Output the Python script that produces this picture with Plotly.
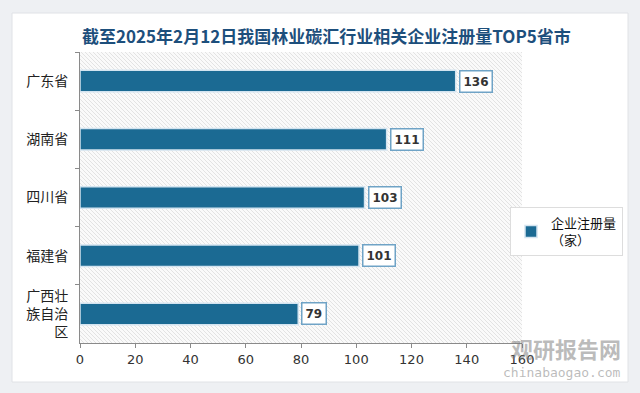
import base64
import plotly.graph_objects as go

categories = ["广东省", "湖南省", "四川省", "福建省", "广西壮<br>族自治<br>区"]
values = [136, 111, 103, 101, 79]
series_name = "企业注册量<br>（家）"
title = "截至2025年2月12日我国林业碳汇行业相关企业注册量TOP5省市"
x_ticks = [0, 20, 40, 60, 80, 100, 120, 140, 160]

W, H = 640, 393
L, R, T, B = 80, 118, 52, 50
pw, ph = W - L - R, H - T - B

def px(x):
    return (x - L) / pw

def py(y):
    return (H - B - y) / ph

bar_color = "#1b6a93"
outer = "#eef0f3"

# diagonal hatch background for the plot area (decoration)
lines = "".join(
    '<line x1="%d" y1="0" x2="%d" y2="%d" stroke="#e3e3e3" stroke-width="1"/>' % (i, i + ph, ph)
    for i in range(-ph, pw + 1, 4)
)
svg = ('<svg xmlns="http://www.w3.org/2000/svg" width="%d" height="%d">'
       '<rect width="100%%" height="100%%" fill="#fafafa"/>%s</svg>') % (pw, ph, lines)
hatch_uri = "data:image/svg+xml;base64," + base64.b64encode(svg.encode()).decode()

fig = go.Figure()
fig.add_trace(go.Bar(
    y=categories, x=values, orientation="h", name=series_name,
    marker=dict(color=bar_color, line=dict(color="#d3e4f0", width=1.5)),
    showlegend=True,
))

annotations = []
for c, v in zip(categories, values):
    annotations.append(dict(
        x=v, y=c, xref="x", yref="y", text="<b>%d</b>" % v, showarrow=False,
        xanchor="left", xshift=3, font=dict(size=12, color="#333333", family="DejaVu Sans"),
        bgcolor="white", bordercolor="#6fa3c6", borderwidth=1.5, borderpad=3,
    ))

annotations.append(dict(
    x=px(326), y=py(35), xref="paper", yref="paper", text="<b>" + title + "</b>",
    showarrow=False, xanchor="center", yanchor="middle",
    font=dict(size=17, color="#1d4f7c", family="Noto Sans CJK SC"),
))
# watermark
annotations.append(dict(
    x=px(623), y=py(348), xref="paper", yref="paper", text="<b>观研报告网</b>",
    showarrow=False, xanchor="right", yanchor="middle",
    font=dict(size=22, color="rgba(120,120,120,0.5)", family="Noto Sans CJK SC"),
))
annotations.append(dict(
    x=px(623), y=py(372), xref="paper", yref="paper", text="chinabaogao.com",
    showarrow=False, xanchor="right", yanchor="middle",
    font=dict(size=13, color="rgba(120,120,120,0.5)", family="DejaVu Sans Mono"),
))

# grey page around the white card (four strips in the margins)
shapes = [
    dict(type="rect", xref="paper", yref="paper", layer="below",
         x0=px(0), x1=px(W), y0=py(13), y1=py(0), fillcolor=outer, line=dict(width=0)),
    dict(type="rect", xref="paper", yref="paper", layer="below",
         x0=px(0), x1=px(W), y0=py(H), y1=py(382), fillcolor=outer, line=dict(width=0)),
    dict(type="rect", xref="paper", yref="paper", layer="below",
         x0=px(0), x1=px(12), y0=py(H), y1=py(0), fillcolor=outer, line=dict(width=0)),
    dict(type="rect", xref="paper", yref="paper", layer="below",
         x0=px(628), x1=px(W), y0=py(H), y1=py(0), fillcolor=outer, line=dict(width=0)),
    dict(type="rect", xref="paper", yref="paper", layer="below",
         x0=px(12), x1=px(628), y0=py(382), y1=py(13),
         fillcolor="rgba(0,0,0,0)", line=dict(color="#e0e2e6", width=1)),
]

images = [
    dict(source=hatch_uri, xref="paper", yref="paper", x=0, y=1,
         sizex=1, sizey=1, xanchor="left", yanchor="top",
         sizing="stretch", layer="below"),
]

fig.update_layout(
    width=W, height=H,
    margin=dict(l=L, r=R, t=T, b=B, autoexpand=False),
    paper_bgcolor="white",
    plot_bgcolor="rgba(0,0,0,0)",
    bargap=0.63,
    font=dict(family="Noto Sans CJK SC", color="#222222"),
    xaxis=dict(
        range=[0, 160], tickvals=x_ticks, showgrid=False, zeroline=False,
        showline=True, linecolor="#8a8a8a", linewidth=1, automargin=False,
        ticks="outside", ticklen=4, tickcolor="#8a8a8a",
        tickfont=dict(size=13, color="#333333", family="DejaVu Sans"),
    ),
    yaxis=dict(
        autorange="reversed", showgrid=False, zeroline=False, automargin=False,
        showline=True, linecolor="#8a8a8a", linewidth=1,
        ticks="outside", ticklen=4, tickcolor="#8a8a8a", tickson="boundaries",
        tickfont=dict(size=14, color="#222222"), ticklabelstandoff=8,
    ),
    legend=dict(
        x=px(510), y=py(207), xanchor="left", yanchor="top",
        bgcolor="white", bordercolor="#dddddd", borderwidth=1,
        font=dict(size=13, color="#111111"), itemwidth=30,
    ),
    annotations=annotations,
    shapes=shapes,
    images=images,
)

fig.write_html("out.html", config={"displayModeBar": False},
               post_script="document.body.style.margin='0';")
